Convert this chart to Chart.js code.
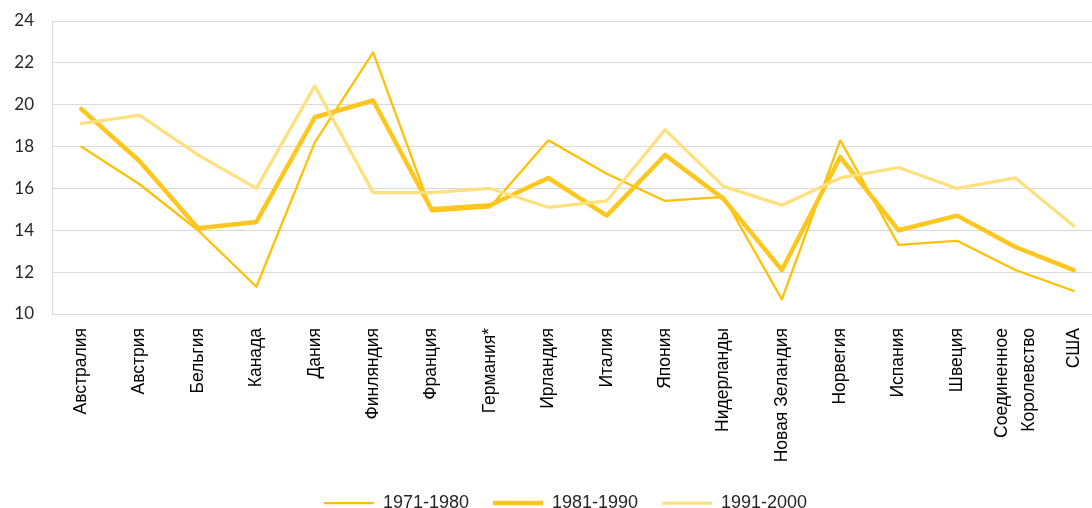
<!DOCTYPE html>
<html>
<head>
<meta charset="utf-8">
<script src="https://cdn.jsdelivr.net/npm/chart.js@4.4.1/dist/chart.umd.min.js"></script>
<style>
  html, body { margin: 0; padding: 0; overflow: hidden; background: #fff; }
  #wrap { width: 1131px; height: 508px; }
</style>
</head>
<body>
<div id="wrap"><canvas id="chart"></canvas></div>
<script>
var countries = ["Австралия", "Австрия", "Бельгия", "Канада", "Дания", "Финляндия", "Франция",
    "Германия*", "Ирландия", "Италия", "Япония", "Нидерланды", "Новая Зеландия", "Норвегия",
    "Испания", "Швеция", ["Соединенное", "Королевство"], "США"];
var s1971 = [18.0, 16.2, 14.0, 11.3, 18.2, 22.5, 14.9, 15.1, 18.3, 16.7, 15.4, 15.6, 10.7, 18.3, 13.3, 13.5, 12.1, 11.1];
var s1981 = [19.8, 17.3, 14.1, 14.4, 19.4, 20.2, 15.0, 15.2, 16.5, 14.7, 17.6, 15.5, 12.1, 17.5, 14.0, 14.7, 13.2, 12.1];
var s1991 = [19.1, 19.5, 17.6, 16.0, 20.9, 15.8, 15.8, 16.0, 15.1, 15.4, 18.8, 16.1, 15.2, 16.5, 17.0, 16.0, 16.5, 14.2];
var seriesNames = ["1971-1980", "1981-1990", "1991-2000"];
var yTicks = [10, 12, 14, 16, 18, 20, 22, 24];

// center two-line rotated labels on their tick (Chart.js puts the first line on it)
var centerMultiLine = {
    id: "centerMultiLine",
    afterLayout: function (chart) {
        // legend in the original is centred on the whole figure, not the padded box
        chart.legend.left += 14;
        chart.legend.right += 14;
    },
    beforeDraw: function (chart) {
        var scale = chart.scales.x;
        var items = scale.getLabelItems(chart.chartArea);
        items.forEach(function (item) {
            if (Array.isArray(item.label) && !item._shifted) {
                item.options.translation[0] -= (item.label.length - 1) * 13.5;
                item._shifted = true;
            }
        });
    }
};

var ctx = document.getElementById("chart");
var lineChart = new Chart(ctx, {
    type: "line",
    plugins: [centerMultiLine],
    data: {
        labels: countries,
        datasets: [{
            label: seriesNames[0],
            data: s1971,
            borderColor: "#FFC000",
            borderWidth: 2.25,
            order: 3
        }, {
            label: seriesNames[1],
            data: s1981,
            borderColor: "#FFC71E",
            borderWidth: 4.5,
            order: 2
        }, {
            label: seriesNames[2],
            data: s1991,
            borderColor: "#FFE07F",
            borderWidth: 3.25,
            order: 1
        }]
    },
    options: {
        responsive: true,
        maintainAspectRatio: false,
        animation: false,
        layout: { padding: { top: 21, right: 28, bottom: -14, left: 0 } },
        elements: {
            line: { tension: 0, fill: false, borderCapStyle: "round", borderJoinStyle: "round" },
            point: { radius: 0, pointStyle: "line" }
        },
        plugins: {
            tooltip: { enabled: false },
            legend: {
                position: "bottom",
                labels: {
                    usePointStyle: true,
                    pointStyle: "line",
                    pointStyleWidth: 50,
                    padding: 24,
                    color: "#262626",
                    font: { family: "Liberation Sans", size: 18 },
                    sort: function (a, b) { return a.datasetIndex - b.datasetIndex; }
                }
            }
        },
        scales: {
            x: {
                offset: true,
                grid: { display: false, drawOnChartArea: false },
                border: { display: false },
                ticks: {
                    minRotation: 90,
                    maxRotation: 90,
                    autoSkip: false,
                    padding: 6,
                    color: "#000",
                    font: { family: "Liberation Sans", size: 17.5, lineHeight: 1.55 }
                },
                afterFit: function (scale) { scale.height = 156; }
            },
            y: {
                min: 10,
                max: 24,
                afterBuildTicks: function (scale) {
                    scale.ticks = yTicks.map(function (v) { return { value: v }; });
                },
                grid: { color: "#D9D9D9", lineWidth: 1, drawTicks: false },
                border: { display: true, color: "#D9D9D9", width: 1 },
                ticks: {
                    padding: 18,
                    color: "#262626",
                    font: { family: "Lato", size: 17 }
                },
                afterFit: function (scale) {
                    scale.width = 52;
                    scale.paddingTop = 0;
                    scale.paddingBottom = 0;
                }
            }
        }
    }
});
</script>
</body>
</html>
